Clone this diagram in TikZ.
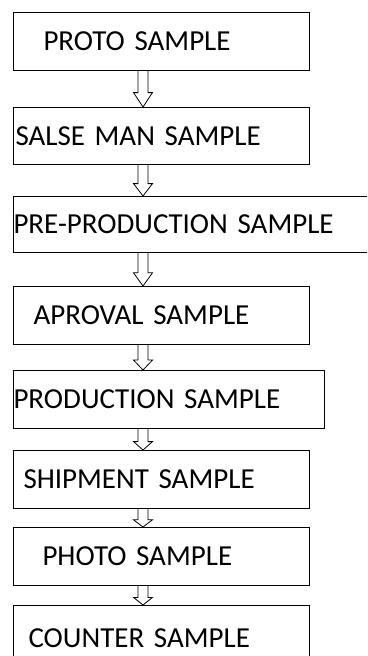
\documentclass[tikz,border=0pt]{standalone}
\usepackage{fontspec}
\setmainfont{Carlito}
\usepackage{tikz}
\usetikzlibrary{calc}

\tikzset{
  samplebox/.style={draw, line width=1pt, anchor=north west, inner xsep=0pt,
    inner ysep=0pt, align=left, font=\fontsize{29}{34}\selectfont},
  flowline/.style={draw, line width=0.8pt, line join=miter},
}

% hollow down arrow between two boxes
\newcommand{\samplearrow}[2]{%
  \draw[flowline] let \p1=(ax |- #1.south), \p2=(ax |- #2.north),
      \p3=($(\p2)!0.4!(\p1)$) in
    (\x1-5pt,\y1) -- (\x1-5pt,\y3) -- (\x1-9.5pt,\y3) -- (\x1,\y2)
    -- (\x1+9.5pt,\y3) -- (\x1+5pt,\y3) -- (\x1+5pt,\y1);}

\begin{document}
\begin{tikzpicture}[x=1pt, y=-1pt]
  \useasboundingbox (0,0) rectangle (367,656);
  \clip (0,0) rectangle (367,656);

  \coordinate (ax) at (143,0);

  \node[samplebox, minimum width=296pt, minimum height=58pt, text width=296pt]
    (proto) at (13,12) {\hspace*{30pt}PROTO SAMPLE};
  \node[samplebox, minimum width=296pt, minimum height=57pt, text width=296pt]
    (salesman) at (13,107) {\hspace*{2pt}SALSE MAN SAMPLE};
  \node[samplebox, minimum width=380pt, minimum height=56pt, text width=380pt]
    (preprod) at (13,196) {PRE-PRODUCTION SAMPLE};
  \node[samplebox, minimum width=296pt, minimum height=58pt, text width=296pt]
    (approval) at (13,286) {\hspace*{20pt}APROVAL SAMPLE};
  \node[samplebox, minimum width=311pt, minimum height=58pt, text width=311pt]
    (production) at (13,370) {PRODUCTION SAMPLE};
  \node[samplebox, minimum width=296pt, minimum height=58pt, text width=296pt]
    (shipment) at (13,450) {\hspace*{10pt}SHIPMENT SAMPLE};
  \node[samplebox, minimum width=296pt, minimum height=58pt, text width=296pt]
    (photo) at (13,527) {\hspace*{29pt}PHOTO SAMPLE};
  \node[samplebox, minimum width=296pt, minimum height=66pt, text width=296pt]
    (counter) at (13,605) {\hspace*{15pt}COUNTER SAMPLE};

  \foreach \a/\b in {proto/salesman, salesman/preprod, preprod/approval,
      approval/production, production/shipment, shipment/photo, photo/counter}
    \samplearrow{\a}{\b};
\end{tikzpicture}
\end{document}
